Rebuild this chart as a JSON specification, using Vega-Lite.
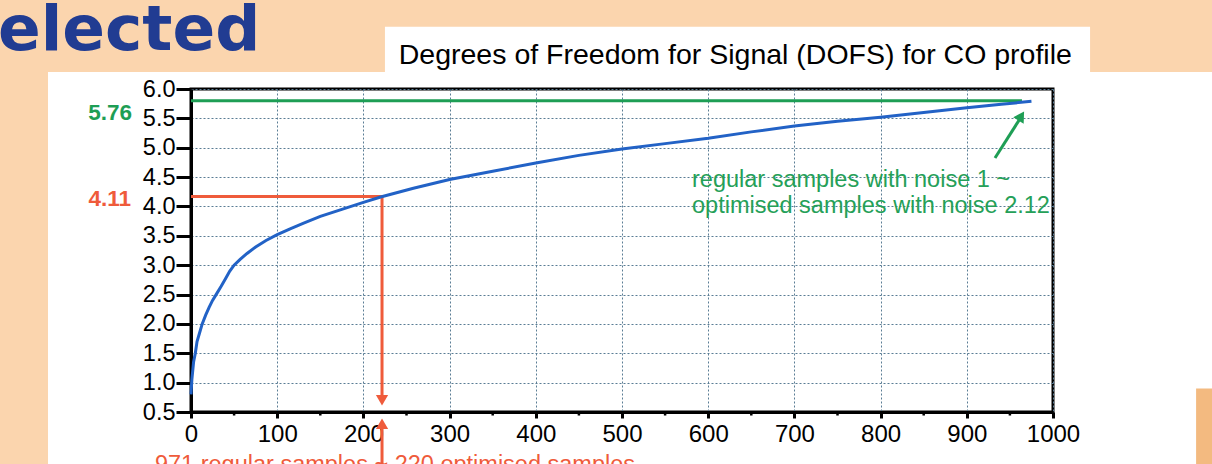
{
  "$schema": "https://vega.github.io/schema/vega-lite/v6.json",
  "width": 862,
  "height": 323,
  "autosize": {"type": "none"},
  "padding": {"left": 191, "top": 89, "right": 159, "bottom": 52},
  "background": "white",
  "config": {
    "view": {"stroke": "black", "strokeWidth": 3, "fill": "white"},
    "axis": {"title": null, "labelOverlap": false, "labelFlush": false}
  },
  "datasets": {
    "dofs": [
      {"samples": 0, "dofs": 0.8},
      {"samples": 1, "dofs": 1.05},
      {"samples": 3, "dofs": 1.35},
      {"samples": 5, "dofs": 1.5},
      {"samples": 7, "dofs": 1.7},
      {"samples": 10, "dofs": 1.85},
      {"samples": 13, "dofs": 2.0},
      {"samples": 17, "dofs": 2.15},
      {"samples": 21, "dofs": 2.28},
      {"samples": 25, "dofs": 2.4},
      {"samples": 30, "dofs": 2.52},
      {"samples": 35, "dofs": 2.64},
      {"samples": 40, "dofs": 2.77},
      {"samples": 45, "dofs": 2.9},
      {"samples": 50, "dofs": 3.0},
      {"samples": 57, "dofs": 3.1},
      {"samples": 65, "dofs": 3.2},
      {"samples": 75, "dofs": 3.31},
      {"samples": 87, "dofs": 3.42},
      {"samples": 100, "dofs": 3.52},
      {"samples": 115, "dofs": 3.62},
      {"samples": 130, "dofs": 3.71},
      {"samples": 150, "dofs": 3.83},
      {"samples": 175, "dofs": 3.95},
      {"samples": 200, "dofs": 4.07},
      {"samples": 220, "dofs": 4.16},
      {"samples": 258, "dofs": 4.31},
      {"samples": 300, "dofs": 4.46},
      {"samples": 350, "dofs": 4.6},
      {"samples": 400, "dofs": 4.74},
      {"samples": 450, "dofs": 4.87},
      {"samples": 500, "dofs": 4.98},
      {"samples": 550, "dofs": 5.07},
      {"samples": 600, "dofs": 5.16},
      {"samples": 650, "dofs": 5.27},
      {"samples": 700, "dofs": 5.37},
      {"samples": 750, "dofs": 5.45},
      {"samples": 800, "dofs": 5.52},
      {"samples": 850, "dofs": 5.6},
      {"samples": 900, "dofs": 5.68},
      {"samples": 940, "dofs": 5.74},
      {"samples": 975, "dofs": 5.79}
    ],
    "minor": [
      {"samples": 50}, {"samples": 150}, {"samples": 250}, {"samples": 350}, {"samples": 450},
      {"samples": 550}, {"samples": 650}, {"samples": 750}, {"samples": 850}, {"samples": 950}
    ],
    "one": [{}]
  },
  "layer": [
    {
      "data": {"name": "one"},
      "mark": {"type": "rect", "color": "#FBD5AE"},
      "encoding": {
        "x": {"datum": -300, "type": "quantitative"}, "x2": {"datum": 1300},
        "y": {"datum": 6.29, "type": "quantitative"}, "y2": {"datum": 8}
      }
    },
    {
      "data": {"name": "one"},
      "mark": {"type": "rect", "color": "white"},
      "encoding": {
        "x": {"datum": 225, "type": "quantitative"}, "x2": {"datum": 1043},
        "y": {"datum": 6.27, "type": "quantitative"}, "y2": {"datum": 7.06}
      }
    },
    {
      "data": {"name": "one"},
      "mark": {"type": "rect", "color": "#FBD5AE"},
      "encoding": {
        "x": {"datum": -300, "type": "quantitative"}, "x2": {"datum": -165.9},
        "y": {"datum": -1, "type": "quantitative"}, "y2": {"datum": 6.3}
      }
    },
    {
      "data": {"name": "one"},
      "mark": {"type": "rect", "color": "#F3BA80"},
      "encoding": {
        "x": {"datum": 1166, "type": "quantitative"}, "x2": {"datum": 1300},
        "y": {"datum": -1, "type": "quantitative"}, "y2": {"datum": 0.9}
      }
    },
    {
      "data": {"name": "minor"},
      "mark": {"type": "rule", "color": "black", "strokeWidth": 2.5},
      "encoding": {
        "x": {"field": "samples", "type": "quantitative"},
        "y": {"datum": 0.5, "type": "quantitative"}, "y2": {"datum": 0.44}
      }
    },
    {
      "data": {"name": "one"},
      "mark": {"type": "rule", "color": "#1E9E55", "strokeWidth": 3},
      "encoding": {
        "x": {"datum": 0, "type": "quantitative"}, "x2": {"datum": 964},
        "y": {"datum": 5.8, "type": "quantitative"}
      }
    },
    {
      "data": {"name": "one"},
      "mark": {"type": "rule", "color": "#EF5B3B", "strokeWidth": 3},
      "encoding": {
        "x": {"datum": 0, "type": "quantitative"}, "x2": {"datum": 221.6},
        "y": {"datum": 4.17, "type": "quantitative"}
      }
    },
    {
      "data": {"name": "one"},
      "mark": {"type": "rule", "color": "#EF5B3B", "strokeWidth": 3},
      "encoding": {
        "x": {"datum": 221.6, "type": "quantitative"},
        "y": {"datum": 4.17, "type": "quantitative"}, "y2": {"datum": 0.75}
      }
    },
    {
      "data": {"name": "one"},
      "mark": {"type": "rule", "color": "#EF5B3B", "strokeWidth": 3},
      "encoding": {
        "x": {"datum": 221.6, "type": "quantitative"},
        "y": {"datum": -0.6, "type": "quantitative"}, "y2": {"datum": 0.3}
      }
    },
    {
      "data": {"name": "one"},
      "mark": {"type": "point", "shape": "triangle-down", "filled": true, "size": 150, "color": "#EF5B3B", "opacity": 1},
      "encoding": {
        "x": {"datum": 221.6, "type": "quantitative"},
        "y": {"datum": 0.7, "type": "quantitative"}
      }
    },
    {
      "data": {"name": "one"},
      "mark": {"type": "point", "shape": "triangle-up", "filled": true, "size": 150, "color": "#EF5B3B", "opacity": 1},
      "encoding": {
        "x": {"datum": 221.6, "type": "quantitative"},
        "y": {"datum": 0.3, "type": "quantitative"}
      }
    },
    {
      "data": {"name": "one"},
      "mark": {"type": "rule", "color": "#1E9E55", "strokeWidth": 3},
      "encoding": {
        "x": {"datum": 932.7, "type": "quantitative"}, "x2": {"datum": 962},
        "y": {"datum": 4.825, "type": "quantitative"}, "y2": {"datum": 5.5}
      }
    },
    {
      "data": {"name": "one"},
      "mark": {"type": "point", "shape": "triangle-up", "filled": true, "size": 150, "color": "#1E9E55", "opacity": 1, "angle": 32},
      "encoding": {
        "x": {"datum": 963.2, "type": "quantitative"},
        "y": {"datum": 5.54, "type": "quantitative"}
      }
    },
    {
      "data": {"name": "dofs"},
      "mark": {"type": "line", "color": "#2262C6", "strokeWidth": 3},
      "encoding": {
        "x": {
          "field": "samples", "type": "quantitative",
          "scale": {"domain": [0, 1000], "nice": false, "zero": false},
          "axis": {
            "values": [0, 100, 200, 300, 400, 500, 600, 700, 800, 900, 1000],
            "tickCount": 11,
            "format": "d",
            "title": null, "grid": true, "gridDash": [2, 2], "gridColor": "#5A7D95", "gridWidth": 1,
            "tickSize": 6, "tickWidth": 3, "tickColor": "black",
            "domainColor": "black", "domainWidth": 3,
            "labelFont": "Liberation Sans", "labelFontSize": 24, "labelColor": "black",
            "labelPadding": 4, "labelFlush": false, "labelOverlap": false
          }
        },
        "y": {
          "field": "dofs", "type": "quantitative",
          "scale": {"domain": [0.5, 6], "nice": false, "zero": false},
          "axis": {
            "values": [0.5, 1, 1.5, 2, 2.5, 3, 3.5, 4, 4.5, 5, 5.5, 6],
            "tickCount": 12,
            "format": ".1f",
            "title": null, "grid": true, "gridDash": [2, 2], "gridColor": "#5A7D95", "gridWidth": 1,
            "tickSize": 15, "tickWidth": 3, "tickColor": "black",
            "domainColor": "black", "domainWidth": 3,
            "labelFont": "Liberation Sans", "labelFontSize": 23.5, "labelColor": "black",
            "labelPadding": 1, "labelFlush": false, "labelOverlap": false
          }
        }
      }
    },
    {
      "data": {"name": "one"},
      "mark": {"type": "text", "text": "elected", "font": "DejaVu Sans", "fontWeight": "bold", "fontSize": 63, "color": "#213C92", "align": "left", "baseline": "alphabetic"},
      "encoding": {
        "x": {"datum": -224, "type": "quantitative"},
        "y": {"datum": 6.664, "type": "quantitative"}
      }
    },
    {
      "data": {"name": "one"},
      "mark": {"type": "text", "text": "Degrees of Freedom for Signal (DOFS) for CO profile", "font": "Liberation Sans", "fontSize": 28.5, "color": "black", "align": "left", "baseline": "alphabetic"},
      "encoding": {
        "x": {"datum": 241, "type": "quantitative"},
        "y": {"datum": 6.426, "type": "quantitative"}
      }
    },
    {
      "data": {"name": "one"},
      "mark": {"type": "text", "text": "5.76", "font": "Liberation Sans", "fontWeight": "bold", "fontSize": 22.5, "color": "#1E9E55", "align": "right", "baseline": "alphabetic"},
      "encoding": {
        "x": {"datum": -68.4, "type": "quantitative"},
        "y": {"datum": 5.48, "type": "quantitative"}
      }
    },
    {
      "data": {"name": "one"},
      "mark": {"type": "text", "text": "4.11", "font": "Liberation Sans", "fontWeight": "bold", "fontSize": 22.5, "color": "#EF5B3B", "align": "right", "baseline": "alphabetic"},
      "encoding": {
        "x": {"datum": -69.6, "type": "quantitative"},
        "y": {"datum": 4.008, "type": "quantitative"}
      }
    },
    {
      "data": {"name": "one"},
      "mark": {"type": "text", "text": "regular samples with noise 1 ~", "font": "Liberation Sans", "fontSize": 23.5, "color": "#25A058", "align": "left", "baseline": "alphabetic"},
      "encoding": {
        "x": {"datum": 581.2, "type": "quantitative"},
        "y": {"datum": 4.331, "type": "quantitative"}
      }
    },
    {
      "data": {"name": "one"},
      "mark": {"type": "text", "text": "optimised samples with noise 2.12", "font": "Liberation Sans", "fontSize": 23.5, "color": "#25A058", "align": "left", "baseline": "alphabetic"},
      "encoding": {
        "x": {"datum": 581.2, "type": "quantitative"},
        "y": {"datum": 3.889, "type": "quantitative"}
      }
    },
    {
      "data": {"name": "one"},
      "mark": {"type": "text", "text": "971 regular samples ~ 220 optimised samples", "font": "Liberation Sans", "fontSize": 23.5, "color": "#EF5B3B", "align": "left", "baseline": "alphabetic"},
      "encoding": {
        "x": {"datum": -41.8, "type": "quantitative"},
        "y": {"datum": -0.52, "type": "quantitative"}
      }
    }
  ]
}
